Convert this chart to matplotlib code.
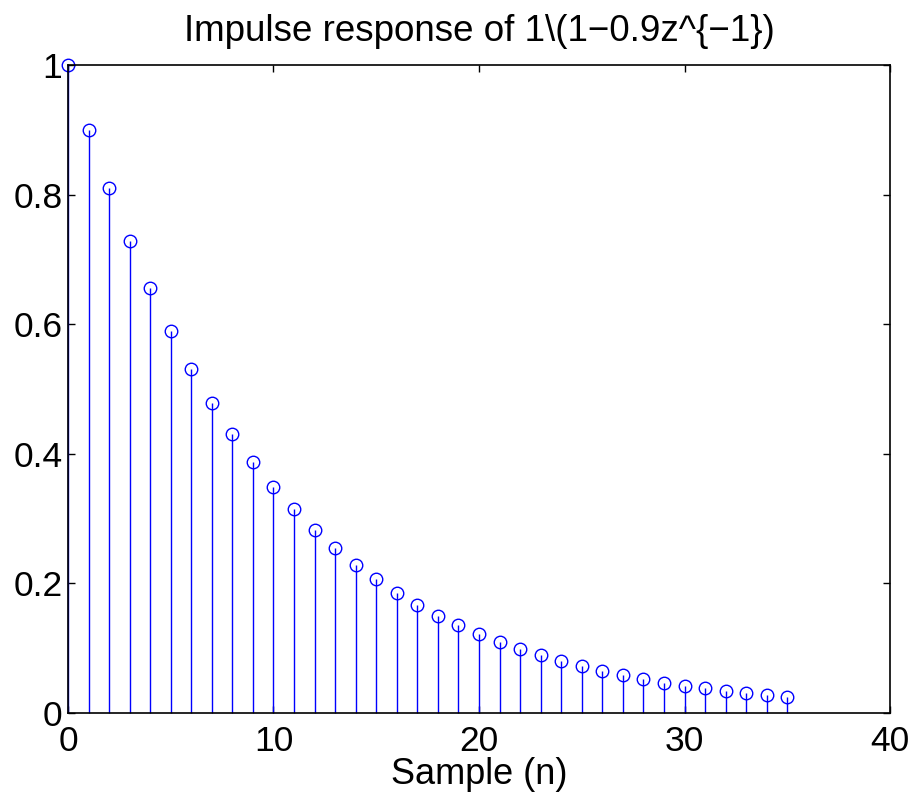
import matplotlib
matplotlib.use("Agg")
import matplotlib.pyplot as plt

# samples
n = list(range(36))
h = [1.000, 0.900, 0.810, 0.729, 0.656, 0.590, 0.531, 0.478, 0.430, 0.387,
     0.349, 0.314, 0.282, 0.254, 0.229, 0.206, 0.185, 0.167, 0.150, 0.135,
     0.122, 0.109, 0.098, 0.089, 0.080, 0.072, 0.065, 0.058, 0.052, 0.047,
     0.042, 0.038, 0.034, 0.031, 0.028, 0.025]
xticks = [0, 10, 20, 30, 40]
yticks = [0, 0.2, 0.4, 0.6, 0.8, 1]
yticklabels = ["0", "0.2", "0.4", "0.6", "0.8", "1"]

plt.rcParams["font.family"] = ["Liberation Sans", "DejaVu Sans"]

fig = plt.figure(figsize=(9.15, 8), dpi=100)
ax = fig.add_axes([0.0743, 0.1088, 0.8984, 0.81])

markers, stems, base = ax.stem(n, h, linefmt="-", markerfmt="o", basefmt=" ")
stems.set_color("#0000ff")
stems.set_linewidth(1.0)
markers.set_markerfacecolor("none")
markers.set_markeredgecolor("#0000ff")
markers.set_markersize(9)
markers.set_markeredgewidth(1.0)
markers.set_clip_on(False)
stems.set_clip_on(False)

ax.set_xlim(0, 40)
ax.set_ylim(0, 1)
ax.set_xticks(xticks)
ax.set_yticks(yticks)
ax.set_yticklabels(yticklabels)
ax.tick_params(direction="in", top=True, right=True, length=5, width=1,
               labelsize=25.5)
ax.tick_params(axis="x", pad=9)
ax.tick_params(axis="y", pad=4)
for s in ax.spines.values():
    s.set_linewidth(1.2)

ax.set_title("Impulse response of 1\\(1\u22120.9z^{\u22121})", fontsize=26.5, pad=17)
ax.set_xlabel("Sample (n)", fontsize=26, labelpad=-1)

fig.savefig("out.png", dpi=100)
